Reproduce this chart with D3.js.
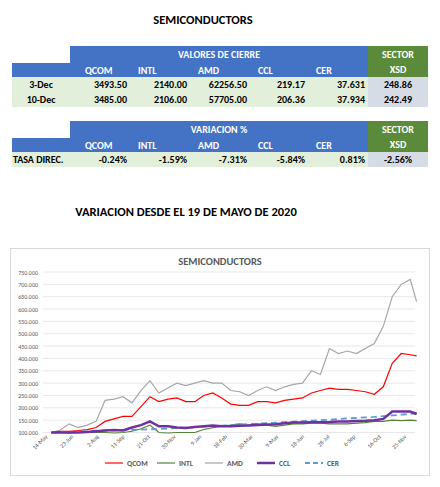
<!DOCTYPE html><html><head><meta charset="utf-8">
<script src="https://cdn.jsdelivr.net/npm/d3@7"></script>
<style>body{margin:0;background:#fff;font-family:Calibri,Carlito,"Liberation Sans",Arial,sans-serif}</style></head><body>
<svg id="c" width="440" height="487"></svg>
<script>
const tickers=["QCOM","INTL","AMD","CCL","CER"];
const rowDates=["3-Dec","10-Dec"];
const closeVals=[["3493.50","2140.00","62256.50","219.17","37.631"],["3485.00","2106.00","57705.00","206.36","37.934"]];
const sectorVals=["248.86","242.49"];
const varVals=["-0.24%","-1.59%","-7.31%","-5.84%","0.81%"];
const sectorVar="-2.56%";
const startDate="2020-05-19", stepDays=14, lastStep=10;
const qcom=[100,105,105,108,112,120,145,155,165,165,205,245,225,235,240,225,225,250,260,240,215,210,210,225,225,220,230,235,240,260,270,280,275,275,270,265,255,285,380,420,415,410];
const intl=[100,100,98,100,100,100,100,98,100,105,115,130,100,98,100,100,100,112,120,125,130,135,130,135,130,125,130,135,135,138,138,135,135,135,138,140,145,145,150,148,150,148];
const amd=[100,110,135,120,130,145,230,235,245,220,270,310,260,280,300,290,300,310,300,300,270,265,250,270,285,270,285,295,300,350,335,440,420,430,420,440,460,530,650,700,720,630];
const ccl=[100,100,100,100,102,105,108,110,108,120,130,145,125,125,120,118,122,125,128,125,125,127,128,130,132,133,137,140,140,142,142,143,145,145,147,148,150,155,185,185,185,175];
const cer=[100,101,102,104,105,107,108,109,110,111,112,113,114,116,118,120,122,124,126,128,130,132,134,136,138,140,142,144,146,148,150,152,155,157,159,161,163,166,169,172,175,178];
const yTicks=[100,150,200,250,300,350,400,450,500,550,600,650,700,750];
const xTickLabels=["14-May","23-Jun","2-Aug","11-Sep","21-Oct","30-Nov","9-Jan","18-Feb","30-Mar","9-May","18-Jun","28-Jul","6-Sep","16-Oct","25-Nov"];

const svg=d3.select("#c");
const BLUE="#4472c4",GREEN="#5b8a3a",LG="#e2efda",GR="#d6dce5";
svg.append("text").attr("x",203).attr("y",24).attr("text-anchor","middle").attr("font-weight","bold").attr("font-size",12.5).text("SEMICONDUCTORS");
const cols=[12,70,130,190,250,308,368,428];
// grid faint lines
function table(y0,title,rows){
  svg.append("rect").attr("x",70).attr("y",y0).attr("width",298).attr("height",31).attr("fill",BLUE);
  svg.append("rect").attr("x",12).attr("y",y0+17).attr("width",58).attr("height",14).attr("fill",BLUE);
  svg.append("rect").attr("x",368).attr("y",y0).attr("width",60).attr("height",31).attr("fill",GREEN);
  svg.append("text").attr("x",219).attr("y",y0+12).attr("text-anchor","middle").attr("fill","#fff").attr("font-weight","bold").attr("font-size",10).text(title);
  svg.append("text").attr("x",398).attr("y",y0+12).attr("text-anchor","middle").attr("fill","#fff").attr("font-weight","bold").attr("font-size",10).text("SECTOR");
  svg.append("text").attr("x",398).attr("y",y0+27).attr("text-anchor","middle").attr("fill","#fff").attr("font-weight","bold").attr("font-size",10).text("XSD");
  tickers.forEach((t,i)=>svg.append("text").attr("x",cols[i+1]+(i==0?15:8)).attr("y",y0+28).attr("fill","#fff").attr("font-weight","bold").attr("font-size",10).text(t));
  rows.forEach((r,j)=>{
    const y=y0+31+j*15;
    svg.append("rect").attr("x",12).attr("y",y).attr("width",356).attr("height",15).attr("fill",LG);
    svg.append("rect").attr("x",368).attr("y",y).attr("width",60).attr("height",15).attr("fill",GR);
    svg.append("text").attr("x",r.labelX).attr("y",y+11).attr("text-anchor",r.anchor).attr("font-weight","bold").attr("font-size",10).text(r.label);
    r.vals.forEach((v,i)=>svg.append("text").attr("x",cols[i+2]-3).attr("y",y+11).attr("text-anchor","end").attr("font-weight","bold").attr("font-size",10).text(v));
    svg.append("text").attr("x",398).attr("y",y+11).attr("text-anchor","middle").attr("font-weight","bold").attr("font-size",10).text(r.sec);
  });
}
table(46,"VALORES DE CIERRE",rowDates.map((d,j)=>({label:d,labelX:41,anchor:"middle",vals:closeVals[j],sec:sectorVals[j]})));
table(121,"VARIACION %",[{label:"TASA DIREC.",labelX:13,anchor:"start",vals:varVals,sec:sectorVar}]);
svg.append("text").attr("x",186).attr("y",216).attr("text-anchor","middle").attr("font-weight","bold").attr("font-size",12.5).text("VARIACION DESDE EL 19 DE MAYO DE 2020");

// chart
svg.append("rect").attr("x",10.5).attr("y",248.5).attr("width",419).attr("height",227).attr("fill","#fff").attr("stroke","#d9d9d9");
svg.append("text").attr("x",220).attr("y",265).attr("text-anchor","middle").attr("font-weight","bold").attr("font-size",10.5).attr("fill","#595959").text("SEMICONDUCTORS");
const p=d3.timeParse("%Y-%m-%d");
const d0=p(startDate);
const dates=qcom.map((_,i)=>d3.timeDay.offset(d0,i<qcom.length-1?i*stepDays:(i-1)*stepDays+lastStep));
const x=d3.scaleTime().domain([p("2020-05-14"),p("2021-11-25")]).range([48,407]);
const y=d3.scaleLinear().domain([100,750]).range([432.5,272]);
const g=svg.append("g");
yTicks.forEach(t=>{g.append("line").attr("x1",43).attr("x2",415).attr("y1",y(t)).attr("y2",y(t)).attr("stroke","#d9d9d9").attr("stroke-width",0.6);
 g.append("text").attr("x",38).attr("y",y(t)+2.5).attr("text-anchor","end").attr("font-size",6).attr("fill","#595959").text(d3.format(".3f")(t/1000*1000/1000).replace(/^/, "")&&(t+".000"));});
xTickLabels.forEach((l,i)=>{const dt=d3.timeDay.offset(p("2020-05-14"),i*40);
 g.append("text").attr("transform",`translate(${x(dt)},${437}) rotate(-45)`).attr("text-anchor","end").attr("font-size",6).attr("fill","#595959").text(l);});
const line=d3.line().x((d,i)=>x(dates[i])).y(d=>y(d));
const series=[[amd,"#a6a6a6",1.2,null],[intl,"#548235",1.2,null],[qcom,"#ff0000",1.2,null],[cer,"#5b9bd5",1.8,"6,4"],[ccl,"#7030a0",2.5,null]];
series.forEach(([d,c,w,da])=>g.append("path").attr("d",line(d)).attr("fill","none").attr("stroke",c).attr("stroke-width",w).attr("stroke-dasharray",da));
const leg=[["QCOM","#ff0000",1.2,null,105],["INTL","#548235",1.2,null,157],["AMD","#a6a6a6",1.2,null,205],["CCL","#7030a0",2.5,null,257],["CER","#5b9bd5",1.8,"5,3",305]];
leg.forEach(([n,c,w,da,lx])=>{g.append("line").attr("x1",lx).attr("x2",lx+18).attr("y1",463).attr("y2",463).attr("stroke",c).attr("stroke-width",w).attr("stroke-dasharray",da);
 g.append("text").attr("x",lx+22).attr("y",466).attr("font-size",7.5).attr("font-weight","bold").attr("fill","#595959").text(n);});
</script></body></html>
